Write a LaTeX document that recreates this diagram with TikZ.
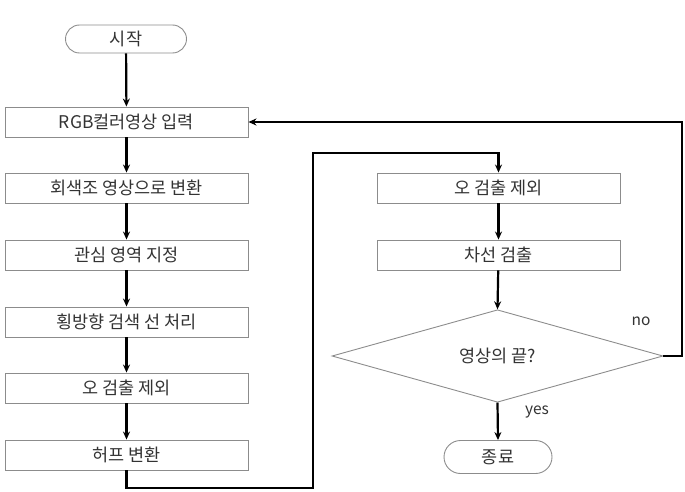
\documentclass[tikz,border=0pt]{standalone}
\usepackage{fontspec}
\newfontfamily\kr{Noto Sans CJK KR}
\usetikzlibrary{shapes.geometric,shapes.misc,arrows.meta}
\begin{document}
\begin{tikzpicture}[x=1pt,y=-1pt,
  txt/.style={font=\kr\fontsize{17.5}{20}\selectfont, text=black!80},
  procbox/.style={txt, draw=black!45, line width=0.9pt, minimum width=243pt, minimum height=30pt, inner sep=0pt},
  term/.style={txt, rounded rectangle, draw=black!45, line width=0.9pt, minimum height=28pt, inner sep=0pt},
  decis/.style={txt, diamond, draw=black!45, line width=0.9pt, minimum width=331pt, minimum height=87pt, inner sep=0pt},
  conn/.style={line width=2.2pt, black, -{Stealth[length=8pt,width=7pt]}},
  lab/.style={font=\kr\fontsize{15.5}{18}\selectfont, text=black!80}]
\useasboundingbox (0,0) rectangle (685,492);
\node[term, minimum width=121pt] (start) at (126,39) {시작};
\node[procbox] (rgb) at (126.5,122) {RGB컬러영상 입력};
\node[procbox] (gray) at (126.5,188) {회색조 영상으로 변환};
\node[procbox] (roi) at (126.5,255) {관심 영역 지정};
\node[procbox] (scan) at (126.5,322) {횡방향 검색 선 처리};
\node[procbox] (excl1) at (126.5,388) {오 검출 제외};
\node[procbox] (hough) at (126.5,455) {허프 변환};
\node[procbox] (excl2) at (498.5,188) {오 검출 제외};
\node[procbox] (lane) at (498.5,255) {차선 검출};
\node[decis] (endq) at (497.5,356) {영상의 끝?};
\node[term, minimum width=108pt, minimum height=33pt] (stop) at (498,457) {종료};
\coordinate (c1) at (313,488);
\coordinate (c2) at (498.5,153);
\coordinate (c3) at (682,122);
\draw[conn] (start) -- (rgb);
\draw[conn] (rgb) -- (gray);
\draw[conn] (gray) -- (roi);
\draw[conn] (roi) -- (scan);
\draw[conn] (scan) -- (excl1);
\draw[conn] (excl1) -- (hough);
\draw[conn] (hough.south) |- (c1) |- (c2) -- (excl2.north);
\draw[conn] (excl2) -- (lane);
\draw[conn] (lane) -- (endq.north);
\draw[conn] (endq.south) -- (stop.north);
\draw[conn] (endq.east) -| (c3) -- (rgb.east);
\node[lab] (nolab) at (641,321) {no};
\node[lab] (yeslab) at (537,412) {yes};
\end{tikzpicture}
\end{document}
